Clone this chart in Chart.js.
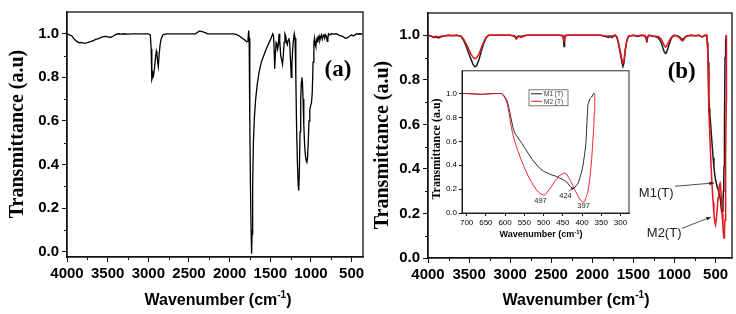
<!DOCTYPE html>
<html lang="en">
<head>
<meta charset="UTF-8">
<title>FTIR spectra</title>
<script src="https://cdn.jsdelivr.net/npm/chart.js"></script>
<style>
    body { margin: 0; background: #fff; }
    #wrap { position: relative; width: 736px; height: 314px; overflow: hidden; }
    canvas { position: absolute; }
    #chartA { left: 0; top: 0; }
    #chartB { left: 370px; top: 0; }
    #chartInset { left: 430px; top: 64px; }
</style>
</head>
<body>
<div id="wrap">
    <canvas id="chartA" width="370" height="314"></canvas>
    <canvas id="chartB" width="366" height="314"></canvas>
    <canvas id="chartInset" width="206" height="178"></canvas>
</div>
<script>
// ---- panel (a): single spectrum ----
const aWave = [4000, 3970, 3940, 3910, 3880, 3850, 3820, 3790, 3760, 3730, 3700, 3670, 3640, 3610, 3580, 3550, 3520, 3490, 3460, 3430,
    3400, 3370, 3330, 3300, 3250, 3200, 3100, 3000, 2975, 2965, 2957, 2950, 2944, 2935, 2925, 2912, 2902, 2894, 2885, 2877,
    2868, 2855, 2840, 2820, 2780, 2700, 2600, 2500, 2420, 2390, 2370, 2340, 2300, 2270, 2200, 2100, 2000, 1960, 1920, 1880,
    1840, 1810, 1790, 1775, 1766, 1760, 1752, 1744, 1736, 1730, 1724, 1717, 1708, 1695, 1680, 1660, 1635, 1610, 1580, 1550,
    1520, 1490, 1470, 1460, 1452, 1446, 1438, 1428, 1420, 1410, 1400, 1392, 1384, 1372, 1360, 1350, 1340, 1330, 1320, 1310,
    1300, 1290, 1282, 1272, 1262, 1252, 1242, 1234, 1225, 1216, 1205, 1196, 1186, 1176, 1166, 1156, 1150, 1143, 1134, 1126,
    1118, 1112, 1105, 1097, 1088, 1078, 1068, 1058, 1050, 1042, 1034, 1024, 1014, 1004, 994, 984, 974, 964, 956, 948,
    940, 932, 924, 916, 908, 900, 890, 880, 870, 860, 850, 840, 830, 820, 810, 800, 792, 784, 770, 750,
    720, 690, 660, 640, 620, 600, 580, 560, 540, 520, 500, 480, 460, 440, 420, 400, 380, 370];
const aTrans = [1.0, 0.995, 0.99, 0.975, 0.965, 0.958, 0.96, 0.956, 0.958, 0.962, 0.965, 0.97, 0.975, 0.978, 0.984, 0.987, 0.988, 0.985, 0.984, 0.99,
    0.997, 1.0, 0.998, 1.0, 0.998, 1.0, 1.0, 1.0, 0.995, 0.93, 0.79, 0.8, 0.82, 0.81, 0.84, 0.89, 0.92, 0.905, 0.87, 0.85,
    0.9, 0.95, 0.98, 0.995, 1.0, 1.0, 1.0, 1.0, 1.0, 1.008, 1.013, 1.01, 1.005, 1.0, 1.0, 1.0, 1.0, 1.0, 0.997, 0.99,
    0.978, 0.97, 0.963, 0.965, 1.015, 0.98, 0.6, 0.3, 0.1, -0.01, 0.08, 0.3, 0.5, 0.62, 0.7, 0.77, 0.83, 0.87, 0.9, 0.93,
    0.955, 0.98, 1.0, 0.99, 0.92, 0.84, 0.9, 0.96, 0.955, 0.93, 0.95, 1.0, 0.97, 0.9, 0.88, 0.86, 0.9, 0.96, 1.0, 0.99,
    0.96, 0.95, 0.97, 0.98, 0.96, 0.88, 0.8, 0.86, 0.93, 0.97, 1.0, 0.98, 0.8, 0.55, 0.4, 0.3, 0.28, 0.36, 0.55, 0.7,
    0.78, 0.8, 0.78, 0.7, 0.58, 0.49, 0.44, 0.415, 0.41, 0.43, 0.5, 0.6, 0.65, 0.67, 0.68, 0.73, 0.87, 0.96, 0.98, 0.95,
    0.94, 0.97, 0.98, 0.96, 0.98, 0.99, 0.97, 0.985, 0.995, 0.975, 0.99, 1.0, 0.98, 0.995, 0.99, 0.965, 0.98, 1.0, 0.995, 1.0,
    0.998, 1.0, 0.995, 0.99, 0.99, 0.985, 0.98, 0.98, 0.985, 0.99, 0.995, 0.99, 0.995, 1.0, 0.998, 1.0, 0.998, 1.0];

// ---- panel (b): M1 (T) and M2 (T), also used by the inset ----
const bWave = [4000, 3960, 3930, 3900, 3870, 3840, 3800, 3750, 3700, 3650, 3600, 3570, 3540, 3510, 3480, 3450, 3430, 3410, 3380, 3350,
    3320, 3290, 3260, 3200, 3100, 3000, 2950, 2925, 2900, 2870, 2800, 2700, 2600, 2500, 2400, 2360, 2350, 2344, 2338, 2330,
    2300, 2200, 2100, 2000, 1900, 1850, 1800, 1780, 1760, 1740, 1720, 1700, 1680, 1660, 1640, 1628, 1615, 1600, 1580, 1560,
    1500, 1450, 1400, 1360, 1345, 1336, 1328, 1310, 1250, 1200, 1180, 1165, 1150, 1130, 1110, 1100, 1085, 1065, 1040, 1020,
    1000, 960, 930, 910, 890, 870, 850, 800, 750, 700, 660, 640, 620, 610, 605, 600, 595, 590, 585, 580,
    575, 570, 560, 550, 540, 530, 520, 510, 500, 497, 490, 480, 470, 460, 450, 445, 440, 430, 424, 420,
    410, 405, 400, 397, 393, 390, 385, 380, 375, 370, 368, 367];
const bM1 = [1.0, 0.995, 0.99, 0.992, 0.988, 0.993, 0.997, 1.0, 0.998, 1.0, 0.995, 0.98, 0.955, 0.925, 0.895, 0.868, 0.858, 0.862, 0.89, 0.93,
    0.965, 0.99, 1.0, 1.0, 1.0, 1.0, 0.998, 0.99, 0.997, 0.995, 1.0, 1.0, 1.0, 1.0, 1.0, 0.998, 0.98, 0.95, 0.975, 0.998,
    1.0, 1.0, 1.0, 1.0, 1.0, 0.995, 0.99, 0.995, 0.99, 0.997, 1.0, 0.99, 0.96, 0.92, 0.88, 0.86, 0.875, 0.93, 0.975, 0.995,
    1.0, 0.995, 1.0, 0.998, 0.985, 0.968, 0.99, 1.0, 0.995, 0.99, 0.98, 0.97, 0.955, 0.93, 0.918, 0.92, 0.935, 0.96, 0.985, 0.995,
    1.0, 0.997, 0.99, 0.98, 0.985, 0.992, 0.997, 1.0, 0.998, 1.0, 0.993, 0.998, 1.0, 1.0, 0.99, 0.97, 0.94, 0.88, 0.8, 0.72,
    0.67, 0.645, 0.6, 0.55, 0.5, 0.45, 0.41, 0.375, 0.35, 0.345, 0.335, 0.32, 0.31, 0.295, 0.28, 0.27, 0.26, 0.22, 0.2, 0.21,
    0.25, 0.3, 0.36, 0.41, 0.5, 0.58, 0.9, 0.955, 0.97, 1.0, 1.0, 1.0];
const bM2 = [1.0, 0.997, 0.993, 0.995, 0.992, 0.996, 0.998, 1.0, 0.999, 1.0, 0.997, 0.985, 0.965, 0.942, 0.918, 0.9, 0.895, 0.898, 0.915, 0.945,
    0.972, 0.992, 1.0, 1.0, 1.0, 1.0, 0.995, 0.982, 0.995, 0.99, 1.0, 1.0, 1.0, 1.0, 1.0, 0.999, 0.99, 0.972, 0.985, 0.999,
    1.0, 1.0, 1.0, 1.0, 1.0, 0.998, 0.997, 0.998, 0.996, 0.999, 1.0, 0.993, 0.965, 0.93, 0.89, 0.875, 0.885, 0.935, 0.978, 0.996,
    1.0, 0.998, 1.0, 0.999, 0.992, 0.985, 0.995, 1.0, 0.997, 0.995, 0.99, 0.985, 0.975, 0.958, 0.947, 0.95, 0.96, 0.975, 0.99, 0.997,
    1.0, 0.995, 0.985, 0.975, 0.978, 0.99, 0.997, 1.0, 0.998, 1.0, 0.992, 0.998, 1.0, 1.0, 0.985, 0.96, 0.92, 0.84, 0.74, 0.66,
    0.6, 0.55, 0.46, 0.38, 0.31, 0.25, 0.2, 0.165, 0.15, 0.15, 0.175, 0.22, 0.27, 0.31, 0.33, 0.335, 0.325, 0.27, 0.23, 0.2,
    0.14, 0.11, 0.095, 0.09, 0.1, 0.13, 0.17, 0.28, 0.45, 0.7, 0.84, 1.0];

const seriesNames = ['M1 (T)', 'M2 (T)'];
const seriesColors = ['#1a1a1a', '#e3161d'];
const insetPeaks = [{ label: '497', x: 508, y: 0.097 }, { label: '424', x: 443, y: 0.144 }, { label: '397', x: 396, y: 0.055 }];

// tick values
const mainXTicks = [4000, 3500, 3000, 2500, 2000, 1500, 1000, 500];
const mainXMinor = [3750, 3250, 2750, 2250, 1750, 1250, 750];
const insetXTicks = [700, 650, 600, 550, 500, 450, 400, 350, 300];
const yTicks = [0, 0.2, 0.4, 0.6, 0.8, 1.0];
const yMinor = [0.1, 0.3, 0.5, 0.7, 0.9];

const SANS = '"Liberation Sans", Arial, sans-serif';
const SERIF = '"Liberation Serif", "Times New Roman", serif';

function pts(xs, ys) {
    return xs.map((x, i) => ({ x: x, y: ys[i] }));
}

function arrow(ctx, x1, y1, x2, y2, head) {
    ctx.beginPath();
    ctx.moveTo(x1, y1);
    ctx.lineTo(x2, y2);
    ctx.stroke();
    const ang = Math.atan2(y2 - y1, x2 - x1);
    ctx.beginPath();
    ctx.moveTo(x2, y2);
    ctx.lineTo(x2 - head * Math.cos(ang - 0.4), y2 - head * Math.sin(ang - 0.4));
    ctx.lineTo(x2 - head * Math.cos(ang + 0.4), y2 - head * Math.sin(ang + 0.4));
    ctx.closePath();
    ctx.fill();
}

// "Wavenumber (cm-1)" with a raised -1
function waveTitle(ctx, cx, cy, size) {
    const big = 'bold ' + size + 'px ' + SANS;
    const small = 'bold ' + Math.round(size * 0.62) + 'px ' + SANS;
    const t1 = 'Wavenumber (cm', t2 = '-1', t3 = ')';
    ctx.font = big;
    const w1 = ctx.measureText(t1).width, w3 = ctx.measureText(t3).width;
    ctx.font = small;
    const w2 = ctx.measureText(t2).width;
    let x = cx - (w1 + w2 + w3) / 2;
    ctx.textAlign = 'left';
    ctx.textBaseline = 'middle';
    ctx.font = big;
    ctx.fillText(t1, x, cy);
    x += w1;
    ctx.font = small;
    ctx.fillText(t2, x, cy - size * 0.33);
    x += w2;
    ctx.font = big;
    ctx.fillText(t3, x, cy);
}

function yTitle(ctx, cx, cy, size) {
    ctx.save();
    ctx.translate(cx, cy);
    ctx.rotate(-Math.PI / 2);
    ctx.font = 'bold ' + size + 'px ' + SERIF;
    ctx.textAlign = 'center';
    ctx.textBaseline = 'middle';
    ctx.fillText('Transmittance (a.u)', 0, 0);
    ctx.restore();
}

// frame, minor ticks, titles and labels
function decor(cfg) {
    return {
        id: 'decor',
        afterDraw(chart) {
            const ctx = chart.ctx;
            const a = chart.chartArea;
            const xs = chart.scales.x, ys = chart.scales.y;
            ctx.save();
            ctx.strokeStyle = '#111';
            ctx.fillStyle = '#111';
            ctx.lineWidth = cfg.frame;
            ctx.strokeRect(a.left, a.top, a.right - a.left, a.bottom - a.top);

            ctx.lineWidth = 1;
            ctx.beginPath();
            (cfg.minorX || []).forEach(v => {
                const p = Math.round(xs.getPixelForValue(v)) + 0.5;
                ctx.moveTo(p, a.bottom);
                ctx.lineTo(p, a.bottom + cfg.minorLen);
            });
            (cfg.minorY || []).forEach(v => {
                const p = Math.round(ys.getPixelForValue(v)) + 0.5;
                ctx.moveTo(a.left, p);
                ctx.lineTo(a.left - cfg.minorLen, p);
            });
            ctx.stroke();

            ctx.fillStyle = '#000';
            waveTitle(ctx, cfg.xTitle[0], cfg.xTitle[1], cfg.xTitle[2]);
            yTitle(ctx, cfg.yTitle[0], cfg.yTitle[1], cfg.yTitle[2]);

            (cfg.texts || []).forEach(t => {
                ctx.font = t.font;
                ctx.fillStyle = t.color || '#000';
                ctx.textAlign = 'center';
                ctx.textBaseline = 'middle';
                ctx.fillText(t.text, xs.getPixelForValue(t.x), ys.getPixelForValue(t.y));
            });
            (cfg.arrows || []).forEach(r => {
                ctx.strokeStyle = '#222';
                ctx.fillStyle = '#222';
                ctx.lineWidth = r.w;
                arrow(ctx, xs.getPixelForValue(r.from[0]), ys.getPixelForValue(r.from[1]),
                    xs.getPixelForValue(r.to[0]), ys.getPixelForValue(r.to[1]), r.head);
            });
            if (cfg.legend) {
                const lx = a.left + cfg.legend.dx, ly = a.top + cfg.legend.dy;
                ctx.strokeStyle = '#555';
                ctx.lineWidth = 0.8;
                ctx.fillStyle = '#fff';
                ctx.fillRect(lx, ly, cfg.legend.w, cfg.legend.h);
                ctx.strokeRect(lx, ly, cfg.legend.w, cfg.legend.h);
                ctx.font = cfg.legend.font;
                ctx.textAlign = 'left';
                ctx.textBaseline = 'middle';
                seriesNames.forEach((name, i) => {
                    const yy = ly + 4 + i * 7.5;
                    ctx.strokeStyle = seriesColors[i];
                    ctx.lineWidth = 1;
                    ctx.beginPath();
                    ctx.moveTo(lx + 2, yy);
                    ctx.lineTo(lx + 13, yy);
                    ctx.stroke();
                    ctx.fillStyle = '#333';
                    ctx.fillText(name, lx + 15, yy + 0.5);
                });
            }
            ctx.restore();
        }
    };
}

function axes(o) {
    return {
        x: {
            type: 'linear', reverse: true, min: o.xmin, max: o.xmax,
            afterBuildTicks: s => { s.ticks = o.xticks.map(v => ({ value: v })); },
            ticks: { autoSkip: false, maxRotation: 0, padding: o.pad,
                color: '#000', font: { size: o.tick, weight: o.weight, family: SANS }, callback: v => String(v) },
            grid: { drawOnChartArea: false, tickLength: o.tl, tickColor: '#111', tickWidth: 1 },
            border: { color: '#111', width: o.frame },
            afterFit: s => { s.height = o.xh; }
        },
        y: {
            min: o.ymin, max: o.ymax,
            afterBuildTicks: s => { s.ticks = yTicks.map(v => ({ value: v })); },
            ticks: { autoSkip: false, padding: o.pad,
                color: '#000', font: { size: o.tick, weight: o.weight, family: SANS }, callback: v => v.toFixed(1) },
            grid: { drawOnChartArea: false, tickLength: o.tl, tickColor: '#111', tickWidth: 1 },
            border: { color: '#111', width: o.frame },
            afterFit: s => { s.width = o.yw; }
        }
    };
}

const base = {
    responsive: false,
    devicePixelRatio: 1,
    animation: false,
    elements: { point: { radius: 0 }, line: { tension: 0 } },
    plugins: { legend: { display: false }, tooltip: { enabled: false } }
};

new Chart(document.getElementById('chartA'), {
    type: 'line',
    data: { datasets: [{ data: pts(aWave, aTrans), borderColor: '#000', borderWidth: 1.3 }] },
    options: Object.assign({}, base, {
        layout: { padding: { top: 12, right: 7, left: 0, bottom: 0 } },
        scales: axes({ xmin: 360, xmax: 4000, xticks: mainXTicks, ymin: -0.025, ymax: 1.1, tick: 15, weight: 'bold',
            pad: 3, tl: 5, frame: 1.3, xh: 57, yw: 67 })
    }),
    plugins: [decor({
        frame: 1.3, minorLen: 3, minorX: mainXMinor, minorY: yMinor,
        xTitle: [218, 301, 16], yTitle: [18, 134, 20],
        texts: [{ text: '(a)', x: 668, y: 0.832, font: 'bold 23px ' + SERIF }]
    })]
});

new Chart(document.getElementById('chartB'), {
    type: 'line',
    data: {
        datasets: [
            { label: seriesNames[0], data: pts(bWave, bM1), borderColor: seriesColors[0], borderWidth: 1.5, order: 2 },
            { label: seriesNames[1], data: pts(bWave, bM2), borderColor: seriesColors[1], borderWidth: 1.5, order: 1 }
        ]
    },
    options: Object.assign({}, base, {
        layout: { padding: { top: 13, right: 4, left: 0, bottom: 0 } },
        scales: axes({ xmin: 300, xmax: 4000, xticks: mainXTicks, ymin: 0, ymax: 1.1, tick: 15, weight: 'bold',
            pad: 3, tl: 5, frame: 1.3, xh: 56, yw: 58 })
    }),
    plugins: [decor({
        frame: 1.3, minorLen: 3, minorX: mainXMinor, minorY: yMinor,
        xTitle: [206, 301, 16], yTitle: [13, 145, 20],
        texts: [
            { text: '(b)', x: 912, y: 0.836, font: 'bold 23px ' + SERIF },
            { text: 'M1(T)', x: 1223, y: 0.29, font: '13px ' + SANS, color: '#222' },
            { text: 'M2(T)', x: 1126, y: 0.11, font: '13px ' + SANS, color: '#222' }
        ],
        arrows: [
            { from: [991, 0.322], to: [520, 0.337], w: 0.8, head: 5 },
            { from: [910, 0.133], to: [556, 0.184], w: 0.8, head: 5 }
        ]
    })]
});

new Chart(document.getElementById('chartInset'), {
    type: 'line',
    data: {
        datasets: [
            { label: seriesNames[0], data: pts(bWave, bM1), borderColor: seriesColors[0], borderWidth: 0.9, order: 2 },
            { label: seriesNames[1], data: pts(bWave, bM2), borderColor: seriesColors[1], borderWidth: 0.9, order: 1 }
        ]
    },
    options: Object.assign({}, base, {
        layout: { padding: { top: 5, right: 7, left: 0, bottom: 0 } },
        scales: axes({ xmin: 278, xmax: 712, xticks: insetXTicks, ymin: 0, ymax: 1.19, tick: 8, weight: 'normal',
            pad: 2, tl: 3, frame: 0.9, xh: 29, yw: 32 })
    }),
    plugins: [decor({
        frame: 0.9, minorLen: 2,
        xTitle: [111, 171, 9], yTitle: [7, 85, 12],
        texts: insetPeaks.map(p => ({ text: p.label, x: p.x, y: p.y, font: '7.5px ' + SANS, color: '#222' })),
        arrows: [{ from: [435, 0.18], to: [422, 0.213], w: 0.7, head: 3 }],
        legend: { dx: 67, dy: 19, w: 39, h: 16, font: '6.5px ' + SANS }
    })]
});
</script>
</body>
</html>
